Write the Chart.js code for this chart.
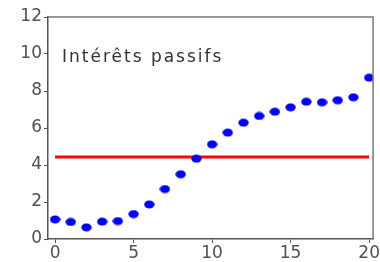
<!DOCTYPE html>
<html>
<head>
<meta charset="utf-8">
<script src="https://cdn.jsdelivr.net/npm/chart.js@4"></script>
<style>
  html, body { margin: 0; padding: 0; background: #fff; }
  #wrap { width: 380px; height: 262px; }
</style>
</head>
<body>
<div id="wrap"><canvas id="graf" width="380" height="262"></canvas></div>
<script>
// données
const periodes = [0, 1, 2, 3, 4, 5, 6, 7, 8, 9, 10, 11, 12, 13, 14, 15, 16, 17, 18, 19, 20];
const interets = [1.06, 0.92, 0.63, 0.94, 0.97, 1.35, 1.87, 2.70, 3.50, 4.34, 5.12, 5.75,
                  6.29, 6.65, 6.88, 7.12, 7.42, 7.39, 7.50, 7.66, 8.72];
const moyenne = 4.43;
const ticksY = [0, 2, 4, 6, 8, 10, 12];
const ticksX = [0, 5, 10, 15, 20];
const titre = 'Intérêts passifs';

const police = 'DejaVu Sans';

// point en forme d'ellipse (un peu plus large que haut)
const pt = document.createElement('canvas');
pt.width = 11; pt.height = 9;
const pc = pt.getContext('2d');
pc.fillStyle = '#0000ff';
pc.beginPath();
pc.ellipse(5.5, 4.5, 5.2, 4, 0, 0, Math.PI * 2);
pc.fill();

// texte dans la zone du graphique + cadre haut/droite
const cadre = {
  id: 'cadre',
  afterDraw(chart) {
    const { ctx, chartArea: a } = chart;
    ctx.save();
    ctx.strokeStyle = '#777';
    ctx.lineWidth = 1.5;
    ctx.beginPath();
    ctx.moveTo(a.left, a.top);
    ctx.lineTo(a.right, a.top);
    ctx.lineTo(a.right, a.bottom);
    ctx.stroke();
    ctx.fillStyle = '#333';
    ctx.font = '17px "' + police + '"';
    ctx.textBaseline = 'middle';
    ctx.letterSpacing = '2px';
    ctx.fillText(titre, a.left + 14, a.top + 41);
    ctx.restore();
  }
};

new Chart(document.getElementById('graf').getContext('2d'), {
  type: 'scatter',
  data: {
    datasets: [
      {
        data: periodes.map((p, i) => ({ x: p, y: interets[i] })),
        pointStyle: pt,
        borderWidth: 0,
        showLine: false
      },
      {
        data: [{ x: periodes[0], y: moyenne }, { x: periodes[periodes.length - 1], y: moyenne }],
        borderColor: '#ff0000',
        borderWidth: 3,
        pointRadius: 0,
        showLine: true
      }
    ]
  },
  options: {
    responsive: false,
    animation: false,
    layout: { padding: { top: 17, right: 4, left: 0, bottom: 0 } },
    plugins: { legend: { display: false }, tooltip: { enabled: false } },
    scales: {
      x: {
        min: -0.45,
        max: 20.25,
        afterBuildTicks: s => { s.ticks = ticksX.map(v => ({ value: v })); },
        afterFit: s => { s.height = 23; },
        grid: { drawOnChartArea: false, tickLength: 4, color: '#555' },
        border: { color: '#555', width: 1.5 },
        ticks: { color: '#505050', font: { family: police, size: 17 }, padding: 0, maxRotation: 0 }
      },
      y: {
        min: 0,
        max: 12,
        afterBuildTicks: s => { s.ticks = ticksY.map(v => ({ value: v })); },
        afterFit: s => { s.width = 48; },
        grid: { drawOnChartArea: false, tickLength: 4, color: '#555' },
        border: { color: '#555', width: 1.5 },
        ticks: { color: '#505050', font: { family: police, size: 17 }, padding: 2 }
      }
    }
  },
  plugins: [cadre]
});
</script>
</body>
</html>
